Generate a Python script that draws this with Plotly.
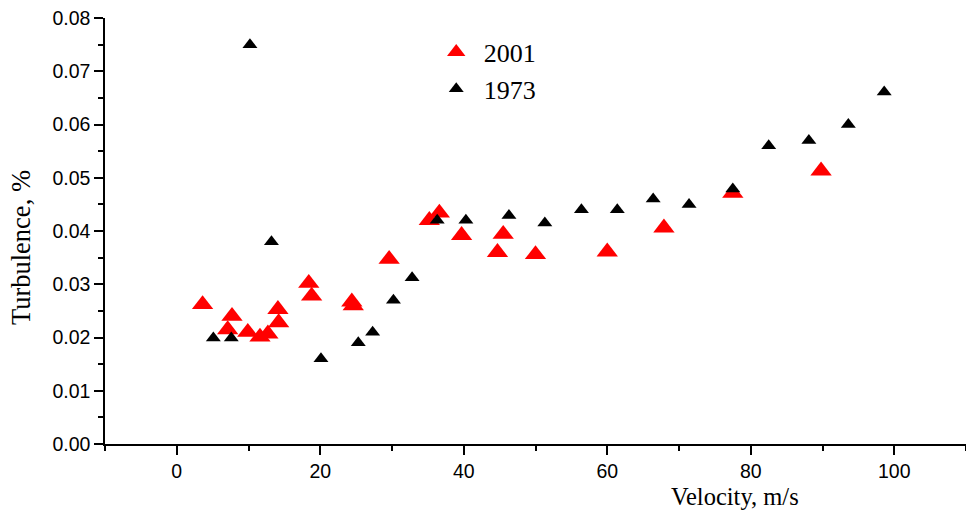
import plotly.graph_objects as go

# 2001 series (red)
x_2001 = [3.6, 7.1, 7.7, 9.9, 11.6, 12.7, 14.1, 14.2, 18.4, 18.8, 24.4, 24.6,
          29.6, 35.2, 36.6, 39.7, 44.7, 45.5, 50.0, 60.0, 67.9, 77.5, 89.8]
y_2001 = [0.0262, 0.0215, 0.0240, 0.0210, 0.0201, 0.0207, 0.0253, 0.0228,
          0.0302, 0.0278, 0.0267, 0.0260, 0.0347, 0.0420, 0.0434, 0.0392,
          0.0360, 0.0394, 0.0356, 0.0361, 0.0406, 0.0471, 0.0513]

# 1973 series (black)
x_1973 = [5.1, 7.6, 10.2, 13.2, 20.1, 25.3, 27.3, 30.2, 32.8, 36.3, 40.3,
          46.3, 51.3, 56.4, 61.4, 66.4, 71.4, 77.5, 82.5, 88.1, 93.6, 98.6]
y_1973 = [0.0199, 0.0199, 0.0750, 0.0380, 0.0160, 0.0190, 0.0210, 0.0270,
          0.0312, 0.0420, 0.0420, 0.0429, 0.0415, 0.0440, 0.0440, 0.0460,
          0.0450, 0.0479, 0.0560, 0.0570, 0.0600, 0.0661]

x_ticks = [0, 20, 40, 60, 80, 100]
y_ticks = [0.00, 0.01, 0.02, 0.03, 0.04, 0.05, 0.06, 0.07, 0.08]

fig = go.Figure()
fig.add_trace(go.Scatter(
    x=x_2001, y=y_2001, mode="markers", name="2001", legendgroup="a",
    marker=dict(symbol="triangle-up", size=18.5, color="#ff0000", line=dict(width=0)),
))
fig.add_trace(go.Scatter(
    x=x_1973, y=y_1973, mode="markers", name="1973", legendgroup="b",
    marker=dict(symbol="triangle-up", size=13, color="#000000", line=dict(width=0)),
))

axis_common = dict(
    showgrid=False, zeroline=False, showline=True, linecolor="black", linewidth=1.5,
    ticks="outside", ticklen=9, tickwidth=1.5, tickcolor="black",
    tickfont=dict(family="Liberation Sans, Arial", size=19.5, color="black"),
)

fig.update_xaxes(
    range=[-10, 110], tickvals=x_ticks, ticktext=[str(v) for v in x_ticks],
    minor=dict(dtick=10, tick0=0, ticks="outside", ticklen=5, tickwidth=1.5, tickcolor="black"),
    **axis_common,
)
fig.update_yaxes(
    range=[0, 0.08], tickvals=y_ticks, ticktext=[f"{v:.2f}" for v in y_ticks],
    minor=dict(dtick=0.005, tick0=0, ticks="outside", ticklen=5, tickwidth=1.5, tickcolor="black"),
    **axis_common,
)

fig.add_annotation(
    text="Velocity, m/s", xref="paper", yref="paper", x=0.7317, y=-0.124,
    xanchor="center", yanchor="middle", showarrow=False,
    font=dict(family="Liberation Serif, Times New Roman", size=24.5, color="black"),
)
fig.add_annotation(
    text="Turbulence, %", xref="paper", yref="paper", x=-0.0975, y=0.460,
    xanchor="center", yanchor="middle", showarrow=False, textangle=-90,
    font=dict(family="Liberation Serif, Times New Roman", size=26.5, color="black"),
)

fig.update_layout(
    width=966, height=512,
    margin=dict(l=105, r=0, t=18, b=68),
    paper_bgcolor="white", plot_bgcolor="white",
    showlegend=True,
    legend=dict(
        x=0.376, y=0.975, xanchor="left", yanchor="top",
        bgcolor="rgba(0,0,0,0)", borderwidth=0,
        font=dict(family="Liberation Serif, Times New Roman", size=26, color="black"),
        traceorder="grouped", tracegroupgap=0, itemwidth=45,
    ),
)

fig.write_html("out.html")
